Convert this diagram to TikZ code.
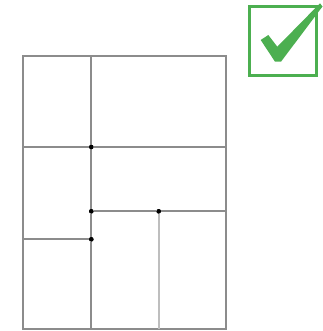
\documentclass[tikz,border=0pt]{standalone}
\usepackage{xcolor}
\usepackage{tikz}
\definecolor{okgreen}{RGB}{76,175,80}
\definecolor{wallgray}{RGB}{140,140,140}
\definecolor{litegray}{RGB}{190,190,190}

\begin{document}
\begin{tikzpicture}[
    x=1pt, y=-1pt,
    wall/.style={draw=wallgray, line width=2pt},
    thin wall/.style={draw=litegray, line width=1.6pt},
    joint/.style={circle, fill=black, inner sep=0pt, minimum size=4.5pt},
    tick/.style={draw=okgreen, line width=3pt}
]
\useasboundingbox (0,0) rectangle (322,331);
%% Outer frame
\coordinate (nw) at (22.7, 56);
\coordinate (se) at (226.3, 329.3);
\draw[wall] (nw) rectangle (se);
%% Junctions
\node[joint] (j1) at (91.3, 147) {};
\node[joint] (j2) at (91.3, 211.3) {};
\node[joint] (j3) at (158.7, 211.3) {};
\node[joint] (j4) at (91.3, 239.3) {};
\coordinate (top) at (91.3, 56);
\coordinate (bot) at (91.3, 329.3);
\coordinate (wl) at (22.7, 147);
\coordinate (wr) at (226.3, 147);
\coordinate (er) at (226.3, 211.3);
\coordinate (ll) at (22.7, 239.3);
\coordinate (rb) at (158.7, 329.3);
%% Partitions
\draw[wall] (top) -- (j1) -- (j2) -- (j4) -- (bot);
\draw[wall] (wl) -- (j1) -- (wr);
\draw[wall] (j2) -- (j3) -- (er);
\draw[wall] (ll) -- (j4);
\draw[thin wall] (j3) -- (rb);
\foreach \j in {j1, j2, j3, j4} \node[joint] at (\j) {};
%% Check box
\draw[tick] (249.5, 7) rectangle (316, 75.5);
\fill[okgreen] (260.7, 40) -- (268.3, 35) -- (277.3, 46.7) -- (320, 3.3)
    -- (322.5, 6.5) -- (281, 61.7) -- (275, 61.7) -- cycle;
\end{tikzpicture}
\end{document}
